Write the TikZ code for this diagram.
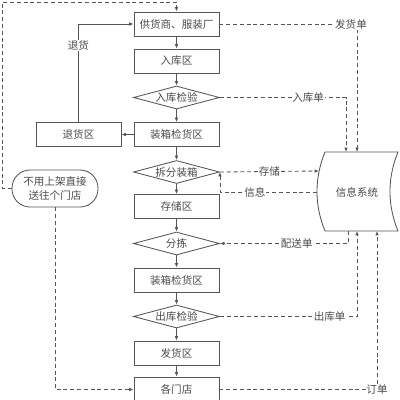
\documentclass[tikz,border=0pt]{standalone}
\usepackage{fontspec}
\newfontfamily\cjk{Noto Sans CJK SC}
\usetikzlibrary{shapes.geometric, arrows.meta, positioning, calc}
\definecolor{mygray}{RGB}{85,85,85}
\definecolor{mytext}{RGB}{75,75,75}
\tikzset{
  box/.style={rectangle, draw=mygray, fill=white,
    minimum width=21.25mm, minimum height=6mm, inner sep=0pt,
    font=\cjk\fontsize{7.5}{9}\selectfont, text=mytext, line width=0.6pt},
  check/.style={diamond, draw=mygray, fill=white, aspect=3.7,
    minimum width=21.5mm, minimum height=5.75mm, inner sep=0pt,
    font=\cjk\fontsize{7.5}{9}\selectfont, text=mytext, line width=0.6pt},
  oval/.style={rectangle, draw=mygray, fill=white, rounded corners=4.5mm,
    minimum width=21.5mm, minimum height=9.25mm, inner sep=0pt, align=center,
    font=\cjk\fontsize{7.5}{10}\selectfont, text=mytext, line width=0.6pt},
  arrow/.style={-{Latex[length=1.1mm,width=0.9mm]}, line width=0.6pt, color=mygray},
  dasharrow/.style={arrow, dash pattern=on 1mm off 0.7mm},
  dashline/.style={line width=0.6pt, color=mygray, dash pattern=on 1mm off 0.7mm},
  lbl/.style={fill=white, inner sep=0.6pt, text=mytext,
    font=\cjk\fontsize{7.5}{9}\selectfont}
}

\begin{document}
\begin{tikzpicture}[x=0.25mm, y=-0.25mm]
  \useasboundingbox (0,0) rectangle (400,400);

  % Main column
  \node[box] (sup) at (176.5,24) {供货商、服装厂};
  \node[box] (inzone) at (176.5,61) {入库区};
  \node[check] (incheck) at (176.5,97.5) {入库检验};
  \node[box] (packa) at (176.5,134.5) {装箱检货区};
  \node[check] (split) at (176.5,172) {拆分装箱};
  \node[box] (store) at (176.5,206.5) {存储区};
  \node[check] (sort) at (176.5,243.5) {分拣};
  \node[box] (packb) at (176.5,280) {装箱检货区};
  \node[check] (outcheck) at (176.5,316.5) {出库检验};
  \node[box] (ship) at (176.5,353) {发货区};
  \node[box, minimum height=6.25mm] (shops) at (176.5,389.5) {各门店};

  \draw[arrow] (sup) -- (inzone);
  \draw[arrow] (inzone) -- (incheck);
  \draw[arrow] (incheck) -- (packa);
  \draw[arrow] (packa) -- (split);
  \draw[arrow] (split) -- (store);
  \draw[arrow] (store) -- (sort);
  \draw[arrow] (sort) -- (packb);
  \draw[arrow] (packb) -- (outcheck);
  \draw[arrow] (outcheck) -- (ship);
  \draw[arrow] (ship) -- (shops);

  % Left side
  \node[box] (ret) at (78.5,134.5) {退货区};
  \node[oval] (direct) at (55,188.5) {不用上架直接\\送往个门店};
  \coordinate (topleft) at (2,2);

  \draw[arrow] (packa) -- (ret);
  \draw[arrow] (ret.north) |- node[lbl, pos=0.39] {退货} (sup.west);
  \draw[dasharrow] (direct.west) -| (topleft) -| (sup.north);
  \draw[dasharrow] (direct.south) |- (shops.west);

  % Information system
  \draw[line width=0.6pt, color=mygray, fill=white]
    (325,152) -- (398,152)
    .. controls (387.3,178.3) and (387.3,204.7) .. (398,231)
    -- (325,231)
    .. controls (314.3,204.7) and (314.3,178.3) .. (325,152) -- cycle;
  \node[font=\cjk\fontsize{7.5}{9}\selectfont, text=mytext] (info) at (357,192) {信息系统};
  \coordinate (infotopa) at (346,152);
  \coordinate (infotopb) at (357,152);
  \coordinate (infoleft) at (319,171);
  \coordinate (infoleftb) at (317,192);
  \coordinate (infobota) at (348,231);
  \coordinate (infobotb) at (357,231);
  \coordinate (infobotc) at (377,231);

  \draw[dasharrow] (sup.east) -| node[lbl, pos=0.5, xshift=-1.5mm] {发货单} (infotopb);
  \draw[dasharrow] (incheck.east) -| node[lbl, pos=0.35] {入库单} (infotopa);
  \draw[dasharrow] (split.east) -- node[lbl, pos=0.5] {存储} (infoleft);
  \draw[dasharrow] (infoleftb) -| node[lbl, pos=0.32] {信息} (split.east);
  \draw[dasharrow] (infobota) |- node[lbl, pos=0.7] {配送单} (sort.east);
  \draw[dasharrow] (outcheck.east) -| node[lbl, pos=0.4] {出库单} (infobotb);
  \draw[dasharrow] (shops.east) -| node[lbl, pos=0.5] {订单} (infobotc);
\end{tikzpicture}
\end{document}
